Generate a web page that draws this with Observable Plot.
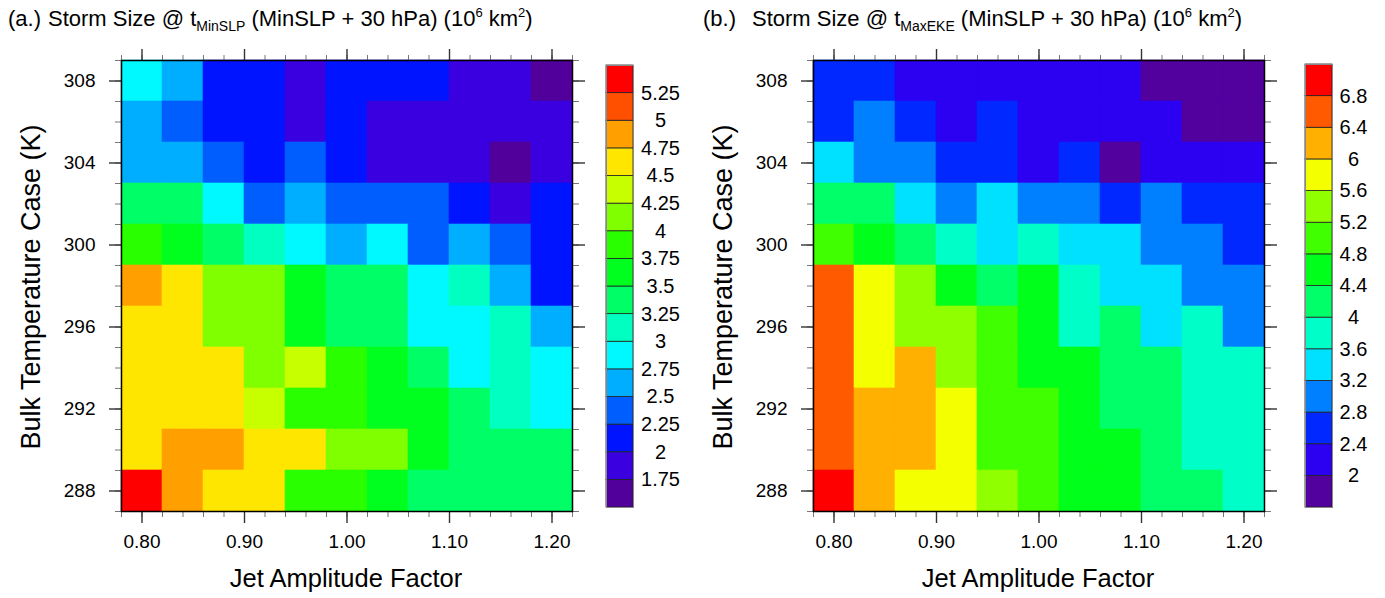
<!DOCTYPE html>
<html><head><meta charset="utf-8">
<script src="https://cdn.jsdelivr.net/npm/d3@7"></script>
<script src="https://cdn.jsdelivr.net/npm/@observablehq/plot@0.6"></script>
<style>
body{margin:0;background:#fff;font-family:"Liberation Sans",Arial,Helvetica,sans-serif;color:#000;}
#root{position:relative;width:1385px;height:598px;overflow:hidden;background:#fff;}
.abs{position:absolute;white-space:nowrap;}
.title{font-size:22px;line-height:22px;}
.title sub{font-size:14px;vertical-align:-5px;line-height:0;}
.title sup{font-size:13px;vertical-align:9px;line-height:0;}
.axt{font-size:25.5px;line-height:26px;}
.ayt{font-size:27px;line-height:27px;}
</style></head>
<body><div id="root"></div>
<script>
// ---- data ----
const jets = [0.80,0.84,0.88,0.92,0.96,1.00,1.04,1.08,1.12,1.16,1.20];
const temps = [308,306,304,302,300,298,296,294,292,290,288]; // row order (top to bottom)
const sizeA = [
  [2.9,2.6,2.1,2.1,1.9,2.1,2.1,2.1,1.9,1.9,1.6],
  [2.6,2.4,2.1,2.1,1.9,2.1,1.9,1.9,1.9,1.9,1.9],
  [2.6,2.6,2.4,2.1,2.4,2.1,1.9,1.9,1.9,1.6,1.9],
  [3.4,3.4,2.9,2.4,2.6,2.4,2.4,2.4,2.1,1.9,2.1],
  [3.9,3.6,3.4,3.1,2.9,2.6,2.9,2.4,2.6,2.4,2.1],
  [4.9,4.6,4.1,4.1,3.6,3.4,3.4,2.9,3.1,2.6,2.1],
  [4.6,4.6,4.1,4.1,3.6,3.4,3.4,2.9,2.9,3.1,2.6],
  [4.6,4.6,4.6,4.1,4.4,3.9,3.6,3.4,2.9,3.1,2.9],
  [4.6,4.6,4.6,4.4,3.9,3.9,3.6,3.6,3.4,3.1,2.9],
  [4.6,4.9,4.9,4.6,4.6,4.1,4.1,3.6,3.4,3.4,3.4],
  [5.4,4.9,4.6,4.6,3.9,3.9,3.6,3.4,3.4,3.4,3.4]
];
const sizeB = [
  [2.6,2.6,2.2,2.2,2.2,2.2,2.2,2.2,1.8,1.8,1.8],
  [2.6,3.0,2.6,2.2,2.6,2.2,2.2,2.2,2.2,1.8,1.8],
  [3.4,3.0,3.0,2.6,2.6,2.2,2.6,1.8,2.2,2.2,2.2],
  [4.2,4.2,3.4,3.0,3.4,3.0,3.0,2.6,3.0,2.6,2.6],
  [5.0,4.6,4.2,3.8,3.4,3.8,3.4,3.4,3.0,3.0,2.6],
  [6.6,5.8,5.4,4.6,4.2,4.6,3.8,3.4,3.4,3.0,3.0],
  [6.6,5.8,5.4,5.4,5.0,4.6,3.8,4.2,3.4,3.8,3.0],
  [6.6,5.8,6.2,5.4,5.0,4.6,4.6,4.2,4.2,3.8,3.8],
  [6.6,6.2,6.2,5.8,5.0,5.0,4.6,4.2,4.2,3.8,3.8],
  [6.6,6.2,6.2,5.8,5.0,5.0,4.6,4.6,4.2,3.8,3.8],
  [7.0,6.2,5.8,5.8,5.4,5.0,4.6,4.6,4.2,4.2,3.8]
];
const levelsA = [1.75,2,2.25,2.5,2.75,3,3.25,3.5,3.75,4,4.25,4.5,4.75,5,5.25];
const colorsA = ["#52009b","#3a00e0","#0014ff","#005eff","#00aeff","#00f8ff","#00ffc0","#00ff66","#00ff1e","#2aff00","#80ff00","#c8ff00","#ffe600","#ffa000","#ff5000","#ff0000"];
const levelsB = [2,2.4,2.8,3.2,3.6,4,4.4,4.8,5.2,5.6,6,6.4,6.8];
const colorsB = ["#52009e","#2c00f0","#0028ff","#0080ff","#00e0ff","#00ffc8","#00ff68","#00ff1a","#40ff00","#90ff00","#f4ff00","#ffb000","#ff5a00","#ff0000"];
const xMajor = [0.80,0.90,1.00,1.10,1.20];
const xMinor = d3.range(39, 62).map(i => i / 50);
const yMajor = [288,292,296,300,304,308];
const yMinor = d3.range(287, 310);

const root = document.getElementById("root");
const FONT = "'Liberation Sans', Arial, Helvetica, sans-serif";

function place(el, left, top) {
  el.style.position = "absolute"; el.style.left = left + "px"; el.style.top = top + "px";
  root.appendChild(el);
}
function addText(html, cls, left, top, extra) {
  const d = document.createElement("div");
  d.className = "abs " + cls; d.innerHTML = html;
  d.style.left = left + "px"; d.style.top = top + "px";
  if (extra) Object.assign(d.style, extra);
  root.appendChild(d);
  return d;
}

function heatmap(values, levels, colors) {
  const data = [];
  temps.forEach((t, r) => jets.forEach((j, c) => data.push({jet: j, temp: t, size: values[r][c]})));
  const none = () => "";
  return Plot.plot({
    width: 600, height: 598,
    marginTop: 60, marginBottom: 87, marginLeft: 121, marginRight: 28,
    style: {fontFamily: FONT, fontSize: "19px", background: "transparent", overflow: "visible", color: "#000"},
    x: {domain: [0.78, 1.22]},
    y: {domain: [287, 309]},
    color: {type: "threshold", domain: levels, range: colors},
    marks: [
      Plot.rect(data, {x1: d => d.jet - 0.02, x2: d => d.jet + 0.02, y1: d => d.temp - 1, y2: d => d.temp + 1,
        fill: "size", stroke: "size", strokeWidth: 0.6}),
      Plot.axisX({anchor: "bottom", ticks: xMinor, tickSize: 6, tickFormat: none, stroke: "#777", strokeWidth: 1, label: null}),
      Plot.axisX({anchor: "top", ticks: xMinor, tickSize: 6, tickFormat: none, stroke: "#777", strokeWidth: 1, label: null}),
      Plot.axisX({anchor: "bottom", ticks: xMajor, tickSize: 12, tickPadding: 11, tickFormat: d3.format(".2f"), stroke: "#333", strokeWidth: 1.4, label: null, fontSize: 19}),
      Plot.axisX({anchor: "top", ticks: xMajor, tickSize: 12, tickFormat: none, stroke: "#333", strokeWidth: 1.4, label: null}),
      Plot.axisY({anchor: "left", ticks: yMinor, tickSize: 6, tickFormat: none, stroke: "#777", strokeWidth: 1, label: null}),
      Plot.axisY({anchor: "right", ticks: yMinor, tickSize: 6, tickFormat: none, stroke: "#777", strokeWidth: 1, label: null}),
      Plot.axisY({anchor: "left", ticks: yMajor, tickSize: 12, tickPadding: 14, tickFormat: d => String(d), stroke: "#333", strokeWidth: 1.4, label: null, fontSize: 19}),
      Plot.axisY({anchor: "right", ticks: yMajor, tickSize: 12, tickFormat: none, stroke: "#333", strokeWidth: 1.4, label: null}),
      Plot.frame({stroke: "#000", strokeWidth: 1.5})
    ]
  });
}

function colorbar(levels, colors, width, mLeft, mTop, mBottom, pad) {
  const n = colors.length;
  const bins = colors.map((c, i) => ({lo: i, hi: i + 1, color: c}));
  return Plot.plot({
    width: width, height: 598,
    marginTop: mTop, marginBottom: mBottom, marginLeft: mLeft, marginRight: width - mLeft - 27,
    style: {fontFamily: FONT, fontSize: "20px", background: "transparent", overflow: "visible", color: "#000"},
    y: {domain: [0, n], axis: null},
    marks: [
      Plot.rect(bins, {y1: "lo", y2: "hi", fill: "color", stroke: "#222", strokeWidth: 0.8}),
      Plot.axisY({anchor: "right", ticks: d3.range(1, n), tickFormat: i => String(levels[i - 1]),
        tickSize: 0, tickPadding: pad, textAnchor: "middle", label: null, fontSize: 20}),
      Plot.frame({stroke: "#888", strokeWidth: 1})
    ]
  });
}

place(heatmap(sizeA, levelsA, colorsA), 0, 0);
place(colorbar(levelsA, colorsA, 92, 6, 65, 91, 27), 600, 0);
place(heatmap(sizeB, levelsB, colorsB), 692, 0);
place(colorbar(levelsB, colorsB, 90, 10, 64, 91, 21), 1295, 0);

// titles
addText("(a.)", "title", 8, 8);
addText("Storm Size @ t<sub>MinSLP</sub> (MinSLP + 30 hPa) (10<sup>6</sup> km<sup>2</sup>)", "title", 48, 8);
addText("(b.)", "title", 703, 8);
addText("Storm Size @ t<sub>MaxEKE</sub> (MinSLP + 30 hPa) (10<sup>6</sup> km<sup>2</sup>)", "title", 752, 8);

// axis titles
addText("Jet Amplitude Factor", "axt", 346, 565, {transform: "translateX(-50%)"});
addText("Jet Amplitude Factor", "axt", 1038, 565, {transform: "translateX(-50%)"});
addText("Bulk Temperature Case (K)", "ayt", 31, 287, {transform: "translate(-50%,-50%) rotate(-90deg)"});
addText("Bulk Temperature Case (K)", "ayt", 723, 287, {transform: "translate(-50%,-50%) rotate(-90deg)"});
</script>
</body></html>
